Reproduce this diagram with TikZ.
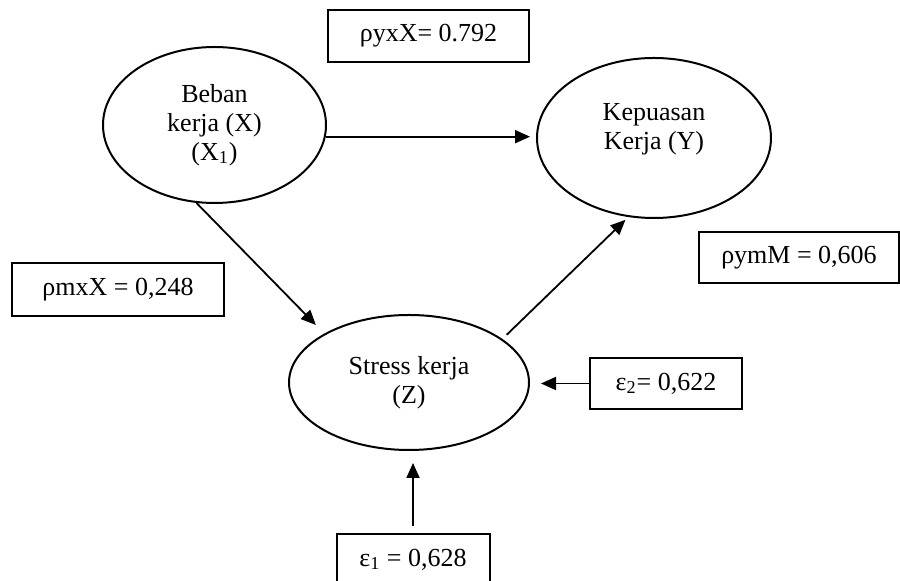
\documentclass[tikz,border=0pt]{standalone}
\usepackage{fontspec}
\setmainfont{Liberation Serif}
\usepackage{tikz}
\usetikzlibrary{shapes.geometric,arrows.meta}

\begin{document}
\begin{tikzpicture}[x=0.5pt,y=-0.5pt,
		>={Triangle[length=7.5pt,width=6.5pt]},
		every node/.style={font=\fontsize{13}{14.5}\selectfont},
		latent/.style={draw,ellipse,line width=1pt,inner sep=0pt,align=center},
		coef/.style={draw,rectangle,line width=1pt,inner sep=0pt,minimum height=25.5pt},
		effect/.style={->,line width=0.9pt}]
		\useasboundingbox (0,0) rectangle (900,581);
		
		\node (X) [latent,minimum width=111.5pt,minimum height=78pt] at (214.5,125) {Beban\\kerja (X)\\(X\textsubscript{1})};
		\node (Y) [latent,minimum width=117pt,minimum height=80pt,text depth=12pt] at (654,138) {Kepuasan\\Kerja (Y)};
		\node (Z) [latent,minimum width=120pt,minimum height=67.5pt] at (409,382.5) {Stress kerja\\(Z)};
		
		\node (pyx) [coef,minimum width=100.5pt,minimum height=26pt] at (428.5,36) {ρyxX= 0.792\hspace{8pt}};
		\node (pmx) [coef,minimum width=106pt,minimum height=26.5pt] at (118,289.5) {ρmxX = 0,248\hspace{8pt}};
		\node (pym) [coef,minimum width=100pt] at (799,257.5) {ρymM = 0,606};
		\node (e2)  [coef,minimum width=76pt] at (666,383.5) {ε\textsubscript{2}= 0,622};
		\node (e1)  [coef,minimum width=76.5pt] at (413,559.5) {ε\textsubscript{1} = 0,628};
		
		\draw [effect,shorten >=3pt] (X.-6) -- (X.-6 -| Y.west);
		\draw [effect,shorten >=6pt] (X.-103) -- (Z.150);
		\draw [effect,shorten <=3pt,shorten >=2pt] (Z.25) -- (Y.-108);
		\draw [effect,shorten >=5.5pt] (e2) -- (e2 -| Z.east);
		\draw [effect,shorten <=3.5pt,shorten >=6pt] (e1.north) -- (e1.north |- Z.south);
	\end{tikzpicture}
\end{document}
